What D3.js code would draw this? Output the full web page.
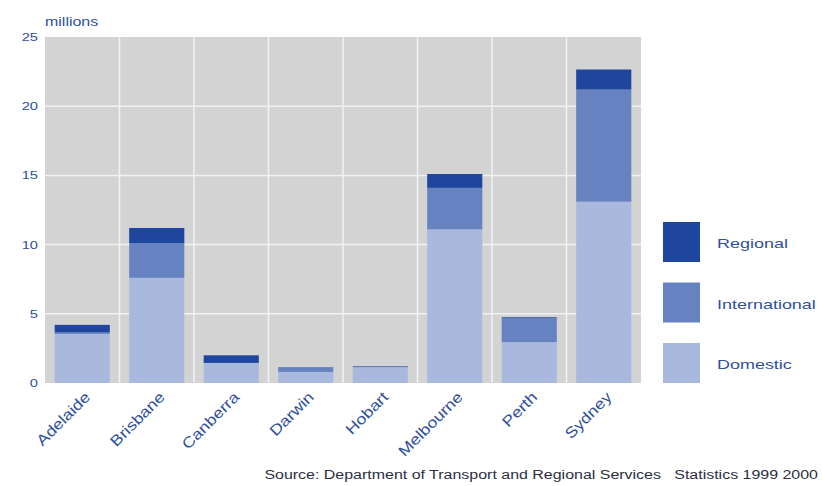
<!DOCTYPE html>
<html>
<head>
<meta charset="utf-8">
<script src="https://cdn.jsdelivr.net/npm/d3@7"></script>
<style>
  html, body { margin: 0; padding: 0; background: #ffffff; }
  svg { display: block; font-family: "Liberation Sans", Arial, sans-serif; }
</style>
</head>
<body>
<svg id="chart" width="823" height="486"></svg>
<script>
// Airport passenger movements by city (millions)
const cities = ["Adelaide", "Brisbane", "Canberra", "Darwin", "Hobart", "Melbourne", "Perth", "Sydney"];
const domestic      = [3.55, 7.6, 1.45, 0.8, 1.15, 11.1, 2.95, 13.1];
const international = [0.1, 2.5, 0.0, 0.35, 0.0, 3.0, 1.75, 8.1];
const regional      = [0.55, 1.1, 0.55, 0.0, 0.05, 1.0, 0.05, 1.45];
const seriesNames   = ["Domestic", "International", "Regional"];
const seriesColors  = ["#a9b9dd", "#6682c1", "#1e469e"];
const yTicks        = [0, 5, 10, 15, 20, 25];
const unitLabel     = "millions";
const sourceNote    = "Source: Department of Transport and Regional Services   Statistics 1999 2000";

const textColor = "#2f4f9f";
const svg = d3.select("#chart");

// stretch a text element along its own direction by factor k
function wide(k) {
  return sel => sel.each(function () {
    const w = this.getComputedTextLength();
    d3.select(this)
      .attr("textLength", w * k)
      .attr("lengthAdjust", "spacingAndGlyphs");
  });
}

const plot = { left: 45, right: 641, top: 37, bottom: 383 };

const x = d3.scaleBand()
  .domain(cities)
  .range([plot.left, plot.right])
  .paddingInner(0.26)
  .paddingOuter(0.13);

const y = d3.scaleLinear()
  .domain([0, 25])
  .range([plot.bottom, plot.top]);

// rows for the stack
const rows = cities.map((c, i) => ({
  city: c,
  Domestic: domestic[i],
  International: international[i],
  Regional: regional[i]
}));
const stacked = d3.stack().keys(seriesNames)(rows);

// grey plot background
svg.append("rect")
  .attr("x", plot.left).attr("y", plot.top)
  .attr("width", plot.right - plot.left)
  .attr("height", plot.bottom - plot.top)
  .attr("fill", "#d3d3d3");

// horizontal grid
svg.append("g")
  .selectAll("line")
  .data(yTicks.filter(t => t > 0 && t < 25))
  .join("line")
  .attr("x1", plot.left).attr("x2", plot.right)
  .attr("y1", d => y(d)).attr("y2", d => y(d))
  .attr("stroke", "#f2f2f2").attr("stroke-width", 1.5);

// vertical grid at the band boundaries
const step = x.step();
svg.append("g")
  .selectAll("line")
  .data(cities.slice(1))
  .join("line")
  .attr("x1", d => x(d) - step * x.paddingInner() / 2)
  .attr("x2", d => x(d) - step * x.paddingInner() / 2)
  .attr("y1", plot.top).attr("y2", plot.bottom)
  .attr("stroke", "#f2f2f2").attr("stroke-width", 1.5);

// stacked bars
svg.append("g")
  .selectAll("g")
  .data(stacked)
  .join("g")
  .attr("fill", (d, i) => seriesColors[i])
  .selectAll("rect")
  .data(d => d)
  .join("rect")
  .attr("x", d => x(d.data.city))
  .attr("width", x.bandwidth())
  .attr("y", d => y(d[1]))
  .attr("height", d => y(d[0]) - y(d[1]));

// y axis labels
const yAxis = d3.axisLeft(y).tickValues(yTicks).tickSize(0).tickPadding(7);
const gy = svg.append("g")
  .attr("transform", `translate(${plot.left},0)`)
  .call(yAxis);
gy.select(".domain").remove();
gy.selectAll("text")
  .attr("fill", textColor)
  .style("font-size", "11px")
  .style("font-family", "'Liberation Sans', Arial, sans-serif")
  .call(wide(1.33));

// unit label
svg.append("text")
  .attr("x", plot.left).attr("y", 26)
  .attr("fill", textColor)
  .style("font-size", "12px")
  .text(unitLabel)
  .call(wide(1.33));

// x axis labels, rotated
const xAxis = d3.axisBottom(x).tickSize(0).tickPadding(0);
const gx = svg.append("g")
  .attr("transform", `translate(0,${plot.bottom})`)
  .call(xAxis);
gx.select(".domain").remove();
gx.selectAll("text")
  .attr("fill", textColor)
  .style("font-size", "15px")
  .style("font-family", "'Liberation Sans', Arial, sans-serif")
  .attr("text-anchor", "end")
  .attr("dy", "0")
  .attr("y", 0)
  .attr("transform", "translate(9,15) rotate(-45)")
  .call(wide(1.18));

// legend, Regional on top
const legendOrder = [2, 1, 0];
const legend = svg.append("g");
legendOrder.forEach((si, k) => {
  const yTop = 222 + k * 60.5;
  legend.append("rect")
    .attr("x", 663).attr("y", yTop)
    .attr("width", 37).attr("height", 40)
    .attr("fill", seriesColors[si]);
  legend.append("text")
    .attr("x", 717).attr("y", yTop + 26)
    .attr("fill", textColor)
    .style("font-size", "13.5px")
    .text(seriesNames[si])
    .call(wide(1.33));
});

// source note, right-aligned
const note = svg.append("text")
  .attr("x", 818).attr("y", 479)
  .attr("fill", "#2b2f3f")
  .style("font-size", "12px")
  .attr("xml:space", "preserve")
  .style("white-space", "pre")
  .text(sourceNote)
  .call(wide(1.33));
note.attr("x", 818 - (+note.attr("textLength")));
</script>
</body>
</html>
